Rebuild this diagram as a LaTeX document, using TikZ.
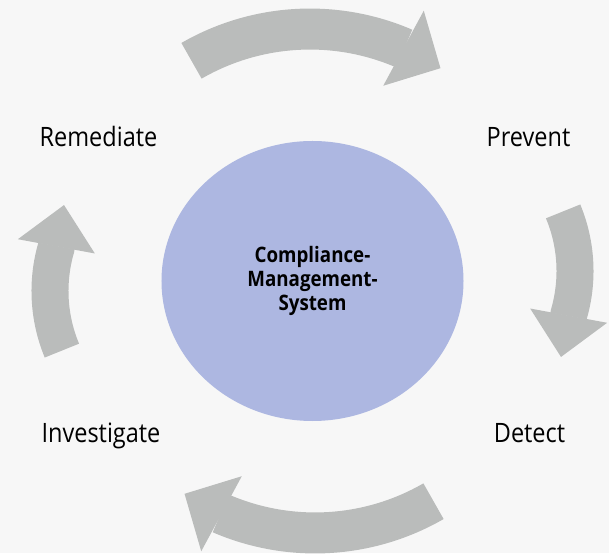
\documentclass[tikz,border=0pt]{standalone}
\usepackage{fontspec}
\setmainfont{Open Sans}[FakeStretch=0.88]
\usetikzlibrary{arrows.meta, bending, positioning, shapes.geometric}

\definecolor{bggray}{HTML}{F7F7F7}
\definecolor{cyclegray}{HTML}{BABCBB}
\definecolor{cmsblue}{HTML}{ADB7E1}

\begin{document}
\begin{tikzpicture}[
  x=1pt, y=1pt,
  hub/.style={
    ellipse,
    fill=cmsblue,
    minimum width=302pt,
    minimum height=280pt,
    inner sep=0pt,
    align=center,
    font=\fontsize{21.3}{24}\selectfont\bfseries
  },
  phase/.style={anchor=base, font=\fontsize{26.7}{32}\selectfont},
  cyclearrow/.style 2 args={
    draw=cyclegray,
    line width=#1pt,
    -{Triangle[width=#2pt, length=42pt, line width=1.5pt]}
  }
]

% Background (fixes the margins)
\useasboundingbox (-312.5,-272) rectangle (296.5,281);
\fill[bggray] (-312.5,-272) rectangle (296.5,281);

% Nodes
\node[hub] (cms) at (0,0) {Compliance-\\Management-\\System};
\node[phase] (remediate) at (-214,134.3) {Remediate};
\node[phase] (prevent) at (216,134.3) {Prevent};
\node[phase] (investigate) at (-211.5,-161.3) {Investigate};
\node[phase] (detect) at (217,-161.3) {Detect};

% Arrows (clockwise cycle)
\coordinate (topTail) at (-121,220.2);
\coordinate (rightTail) at (250.6,69.6);
\coordinate (bottomTail) at (121,-220.2);
\coordinate (leftTail) at (-250.6,-69.6);

\draw[cyclearrow={41}{85}] (topTail) arc[start angle=120, end angle=56.6, radius=237];
\draw[cyclearrow={37}{78}] (rightTail) arc[start angle=22.6, end angle=-16, radius=155] -- ++(-100.5:44);
\draw[cyclearrow={41}{85}] (bottomTail) arc[start angle=300, end angle=236.6, radius=237];
\draw[cyclearrow={37}{78}] (leftTail) arc[start angle=202.6, end angle=164, radius=155] -- ++(79.5:44);

\end{tikzpicture}
\end{document}
